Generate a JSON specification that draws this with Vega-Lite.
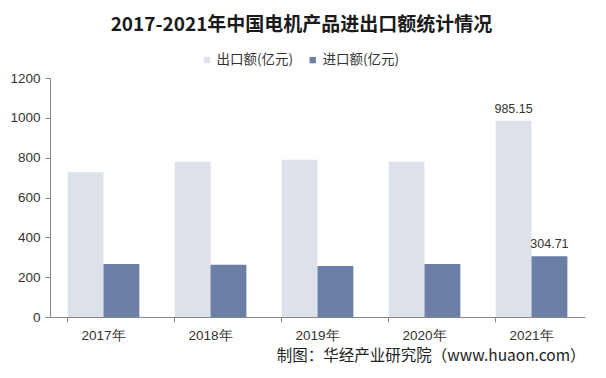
{
  "$schema": "https://vega.github.io/schema/vega-lite/v6.json",
  "width": 535,
  "height": 239,
  "autosize": {"type": "none"},
  "padding": {"left": 50, "top": 78, "right": 21, "bottom": 61},
  "background": "#ffffff",
  "config": {
    "view": {"stroke": null},
    "font": "Liberation Sans"
  },
  "title": {
    "text": "2017-2021年中国电机产品进出口额统计情况",
    "font": "Noto Sans CJK SC",
    "fontSize": 19,
    "fontWeight": "bold",
    "color": "#1a1a1a",
    "anchor": "middle",
    "dx": -16,
    "offset": 18
  },
  "data": {
    "values": [
      {"year": "2017年", "series": "出口额(亿元)", "value": 727},
      {"year": "2018年", "series": "出口额(亿元)", "value": 779},
      {"year": "2019年", "series": "出口额(亿元)", "value": 789},
      {"year": "2020年", "series": "出口额(亿元)", "value": 779},
      {"year": "2021年", "series": "出口额(亿元)", "value": 985.15, "label": "985.15"},
      {"year": "2017年", "series": "进口额(亿元)", "value": 266},
      {"year": "2018年", "series": "进口额(亿元)", "value": 262},
      {"year": "2019年", "series": "进口额(亿元)", "value": 256},
      {"year": "2020年", "series": "进口额(亿元)", "value": 266},
      {"year": "2021年", "series": "进口额(亿元)", "value": 304.71, "label": "304.71"}
    ]
  },
  "encoding": {
    "x": {
      "field": "year",
      "type": "nominal",
      "sort": null,
      "scale": {"paddingInner": 0.33, "paddingOuter": 0.165},
      "axis": {
        "title": "制图：华经产业研究院（www.huaon.com）",
        "titleAnchor": "end",
        "titleAlign": "right",
        "titleFont": "Noto Sans CJK SC",
        "titleFontSize": 15.5,
        "titleFontWeight": "normal",
        "titleColor": "#222222",
        "titlePadding": 7,
        "labelAngle": 0,
        "labelFont": "Liberation Sans",
        "labelFontSize": 13.5,
        "labelColor": "#333333",
        "labelPadding": 6,
        "domainColor": "#888888",
        "tickColor": "#888888",
        "bandPosition": 0,
        "tickSize": 5
      }
    },
    "xOffset": {"field": "series", "type": "nominal", "sort": ["出口额(亿元)", "进口额(亿元)"]},
    "y": {
      "field": "value",
      "type": "quantitative",
      "scale": {"domain": [0, 1200]},
      "axis": {
        "title": null,
        "values": [0, 200, 400, 600, 800, 1000, 1200],
        "format": "d",
        "grid": false,
        "labelFont": "Liberation Sans",
        "labelFontSize": 13.5,
        "labelColor": "#333333",
        "labelPadding": 5,
        "domainColor": "#888888",
        "tickColor": "#888888",
        "tickSize": 5
      }
    }
  },
  "layer": [
    {
      "mark": {"type": "bar"},
      "encoding": {
        "color": {
          "field": "series",
          "type": "nominal",
          "sort": ["出口额(亿元)", "进口额(亿元)"],
          "scale": {"range": ["#dde2ea", "#6a7ea6"]},
          "legend": {
            "title": null,
            "orient": "none",
            "direction": "horizontal",
            "legendX": 150,
            "legendY": -25,
            "symbolType": "square",
            "symbolSize": 40,
            "labelFont": "Noto Sans CJK SC",
            "labelFontSize": 13.5,
            "labelColor": "#333333",
            "columnPadding": 12,
            "labelOffset": 3
          }
        }
      }
    },
    {
      "transform": [{"filter": "datum.label != null"}],
      "mark": {"type": "text", "dy": -12, "fontSize": 12.5, "color": "#333333", "font": "Liberation Sans"},
      "encoding": {"text": {"field": "label"}}
    }
  ]
}
